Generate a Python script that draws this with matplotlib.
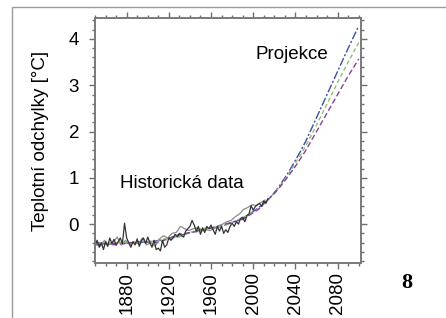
import matplotlib.pyplot as plt
from matplotlib.patches import Rectangle
from matplotlib.ticker import MultipleLocator

# observed record, every 2 years
obs_years = list(range(1850, 2015, 2))
obs_black = [-0.45, -0.35, -0.50, -0.40, -0.55, -0.38, -0.48, -0.30, -0.42, -0.33,
             -0.45, -0.38, -0.30, -0.42, 0.02, -0.30, -0.40, -0.50, -0.38, -0.45,
             -0.32, -0.48, -0.36, -0.30, -0.42, -0.28, -0.40, -0.50, -0.35, -0.55,
             -0.52, -0.58, -0.35, -0.50, -0.45, -0.30, -0.35, -0.30, -0.22, -0.28,
             -0.20, -0.25, -0.28, -0.15, -0.10, -0.05, 0.08, -0.02, -0.15, -0.05,
             -0.22, -0.08, -0.18, -0.05, -0.10, -0.02, -0.12, -0.22, -0.05, -0.15,
             -0.05, -0.20, -0.12, -0.18, -0.05, 0.02, -0.05, 0.05, 0.00, 0.12,
             0.15, 0.05, 0.18, 0.22, 0.40, 0.30, 0.38, 0.42, 0.45, 0.38,
             0.50, 0.45, 0.55]

grey_years = list(range(1851, 2015, 4))
obs_grey = [-0.38, -0.48, -0.35, -0.45, -0.40, -0.28, -0.45, -0.35, -0.45, -0.38,
            -0.42, -0.30, -0.45, -0.40, -0.48, -0.32, -0.25, -0.30, -0.20, -0.18,
            -0.05, -0.10, -0.14, -0.10, -0.08, -0.15, -0.12, -0.14, -0.10, -0.04,
            0.00, 0.05, 0.08, 0.16, 0.22, 0.32, 0.36, 0.42, 0.40, 0.46,
            0.52]

# model runs: historical + projection
hist_years = [1850, 1870, 1890, 1910, 1930, 1950, 1970, 1990, 2005]
hist_blue = [-0.45, -0.42, -0.40, -0.36, -0.25, -0.12, -0.05, 0.12, 0.35]
hist_purple = [-0.40, -0.45, -0.38, -0.40, -0.22, -0.15, -0.02, 0.10, 0.32]
hist_green = [-0.42, -0.40, -0.42, -0.35, -0.27, -0.10, -0.06, 0.14, 0.33]

proj_years = list(range(2015, 2101, 5))
proj_blue = [0.55, 0.68, 0.83, 1.00, 1.18, 1.38, 1.58, 1.80, 2.05, 2.30,
             2.55, 2.80, 3.05, 3.30, 3.55, 3.80, 4.04, 4.28]
proj_green = [0.55, 0.67, 0.81, 0.97, 1.14, 1.32, 1.50, 1.70, 1.92, 2.14,
              2.37, 2.60, 2.83, 3.06, 3.28, 3.50, 3.71, 3.92]
proj_purple = [0.55, 0.66, 0.79, 0.94, 1.09, 1.25, 1.42, 1.60, 1.80, 2.00,
               2.20, 2.40, 2.60, 2.80, 3.00, 3.20, 3.38, 3.57]

plt.rcParams["font.family"] = ["Liberation Sans", "DejaVu Sans"]

fig = plt.figure(figsize=(4.46, 3.18), dpi=100)
fig.patches.append(Rectangle((12 / 446, -0.1), 1.0, 1.1 - 7 / 318,
                             transform=fig.transFigure, fill=False,
                             edgecolor="#9a9a9a", linewidth=1.0))
ax = fig.add_axes([0.213, 0.173, 0.596, 0.770])

ax.plot(hist_years + proj_years, hist_blue + proj_blue, color="#3a4fa0",
        linewidth=1.0, dashes=(6, 1.5, 1.5, 1.5))
ax.plot(hist_years + proj_years, hist_green + proj_green, color="#8fbf6a",
        linewidth=1.0, dashes=(3, 2))
ax.plot(hist_years + proj_years, hist_purple + proj_purple, color="#8a3fa8",
        linewidth=1.0, dashes=(4, 2))
ax.plot(grey_years, obs_grey, color="#8c8c8c", linewidth=0.9)
ax.plot(obs_years, obs_black, color="#333333", linewidth=0.9)

ax.set_xlim(1850, 2102)
ax.set_ylim(-0.84, 4.45)
ax.xaxis.set_major_locator(MultipleLocator(40))
ax.xaxis.set_minor_locator(MultipleLocator(10))
ax.yaxis.set_major_locator(MultipleLocator(1))
ax.yaxis.set_minor_locator(MultipleLocator(0.2))
ax.set_xticks([1880, 1920, 1960, 2000, 2040, 2080])
ax.tick_params(which="both", direction="out", top=True, right=True,
               color="#6e6e6e", width=1.0, labelsize=13.5)
ax.tick_params(which="major", length=4.5)
ax.tick_params(which="minor", length=2.2)
ax.tick_params(axis="x", labelrotation=90, pad=2)
ax.tick_params(axis="y", pad=7)
for s in ax.spines.values():
    s.set_color("#7a7a7a")
    s.set_linewidth(1.4)

ax.set_ylabel("Teplotní odchylky [°C]", fontsize=13.5, labelpad=14)
ax.text(1873.5, 0.88, "Historická data", fontsize=13.5, ha="left", va="center")
ax.text(2002.5, 3.66, "Projekce", fontsize=13.5, ha="left", va="center")
fig.text(407 / 446, 1 - 283 / 318, "8", fontsize=16, fontweight="bold",
         family="Liberation Serif", ha="center", va="center")

fig.savefig("out.png", dpi=100)
